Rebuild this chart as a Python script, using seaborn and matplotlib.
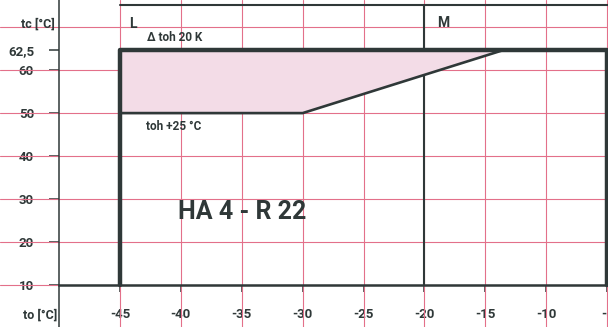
import numpy as np
import pandas as pd
import matplotlib
matplotlib.use("Agg")
import matplotlib.pyplot as plt
import seaborn as sns
from matplotlib.ticker import FixedLocator, FixedFormatter

# ---------------- data ----------------
x_ticks = [-45, -40, -35, -30, -25, -20, -15, -10, -5]
x_labels = ["-45", "-40", "-35", "-30", "-25", "-20", "-15", "-10", "-5"]
y_ticks = [10, 20, 30, 40, 50, 60, 62.5]
y_labels = ["10", "20", "30", "40", "50", "60", "62,5"]

# envelope (to, tc)
env_to = [-45, -45, -5, -5]
env_tc = [10, 62.5, 62.5, 10]
# toh +25 °C limit line
lim_to = [-45, -30, -13.5]
lim_tc = [50, 50, 62.5]
# zone L / M split and zone header
zone_split = -20
zone_top = 68.1
zone_names = ["L", "M"]

# ---------------- style ----------------
sns.set_theme(style="white")
FONT = ["Roboto", "DejaVu Sans"]
plt.rcParams["font.family"] = FONT
DARK = "#2f3838"
RED = "#e3708a"
PINK = "#f3dce7"

# piecewise y scale (top band stretched as in the original chart)
K = 1.856
def fwd(y):
    y = np.asarray(y, dtype=float)
    return np.where(y <= 60, y, 60 + (y - 60) * K)
def inv(t):
    t = np.asarray(t, dtype=float)
    return np.where(t <= 60, t, 60 + (t - 60) / K)

fig = plt.figure(figsize=(6.08, 3.27), dpi=100)
ax = fig.add_axes([0, 0, 1, 1])
ax.set_yscale("function", functions=(fwd, inv))
XMIN, XMAX = -54.85, -4.93
ax.set_xlim(XMIN, XMAX)
ax.set_ylim(float(inv(0.37)), float(inv(76.24)))

# grid (graph paper)
ax.xaxis.remove_overlapping_locs = False
ax.yaxis.remove_overlapping_locs = False
ax.xaxis.set_major_locator(FixedLocator(x_ticks))
ax.xaxis.set_major_formatter(FixedFormatter(x_labels))
ax.yaxis.set_major_locator(FixedLocator(y_ticks))
ax.yaxis.set_major_formatter(FixedFormatter(y_labels))
ax.yaxis.set_minor_locator(FixedLocator([10, 20, 30, 40, 50, 60, float(inv(70))]))
ax.xaxis.set_minor_locator(FixedLocator(x_ticks))
ax.grid(False, which="major")
ax.grid(True, which="minor", color=RED, lw=0.8)
ax.set_axisbelow(True)

# spines as axes of the chart
for s in ["top", "right"]:
    ax.spines[s].set_visible(False)
ax.spines["left"].set_position(("data", -50))
ax.spines["bottom"].set_position(("data", 10))
ax.spines["bottom"].set_bounds(-50, XMAX)
ax.spines["left"].set_color(DARK)
ax.spines["bottom"].set_color(DARK)
ax.spines["left"].set_linewidth(1.1)
ax.spines["bottom"].set_linewidth(1.8)

ax.tick_params(axis="y", which="major", direction="out", length=7.5, width=1.1,
               pad=10.5, colors=DARK, labelsize=9.5, left=True)
ax.tick_params(axis="x", which="major", direction="out", length=5, width=1.1,
               pad=11.5, colors=DARK, labelsize=9.5, bottom=True)
ax.tick_params(which="minor", length=0)
for lab in ax.get_xticklabels() + ax.get_yticklabels():
    lab.set_fontweight("bold")

# zone divider and header line
ax.plot([zone_split, zone_split], [10, zone_top], color=DARK, lw=1.5, zorder=2)
ax.plot([-45, XMAX], [zone_top, zone_top], color=DARK, lw=1.5, zorder=2)

# pink area
fill_to = lim_to + [-45]
fill_tc = lim_tc + [62.5]
ax.fill(fill_to, fill_tc, color=PINK, lw=0, zorder=3)

# envelope lines
env = pd.DataFrame({"to": env_to, "tc": env_tc})
lim = pd.DataFrame({"to": lim_to, "tc": lim_tc})
sns.lineplot(data=env, x="to", y="tc", sort=False, estimator=None, color=DARK,
             lw=3.2, ax=ax, zorder=4)
sns.lineplot(data=lim, x="to", y="tc", sort=False, estimator=None, color=DARK,
             lw=1.9, ax=ax, zorder=4)

# axis labels
ax.set_ylabel("tc [°C]", rotation=0, fontsize=9, fontweight="bold", color=DARK,
              ha="center", va="center")
ax.yaxis.set_label_coords(0.062, 0.927)
ax.set_xlabel("to [°C]", fontsize=9, fontweight="bold", color=DARK,
              ha="center", va="center")
ax.xaxis.set_label_coords(0.066, 0.035)

# annotations
ax.text(0.219, 0.927, zone_names[0], transform=ax.transAxes, fontsize=10,
        fontweight="bold", color=DARK, ha="center", va="center")
ax.text(0.729, 0.930, zone_names[1], transform=ax.transAxes, fontsize=10,
        fontweight="bold", color=DARK, ha="center", va="center")
ax.text(0.288, 0.884, "Δ toh 20 K", transform=ax.transAxes, fontsize=8.5,
        fontweight="bold", color=DARK, ha="center", va="center")
ax.text(0.285, 0.612, "toh +25 °C", transform=ax.transAxes, fontsize=8.5,
        fontweight="bold", color=DARK, ha="center", va="center")
ax.text(0.398, 0.352, "HA 4 - R 22", transform=ax.transAxes, fontsize=18,
        fontweight="bold", color=DARK, ha="center", va="center")

fig.savefig("out.png", dpi=100)
